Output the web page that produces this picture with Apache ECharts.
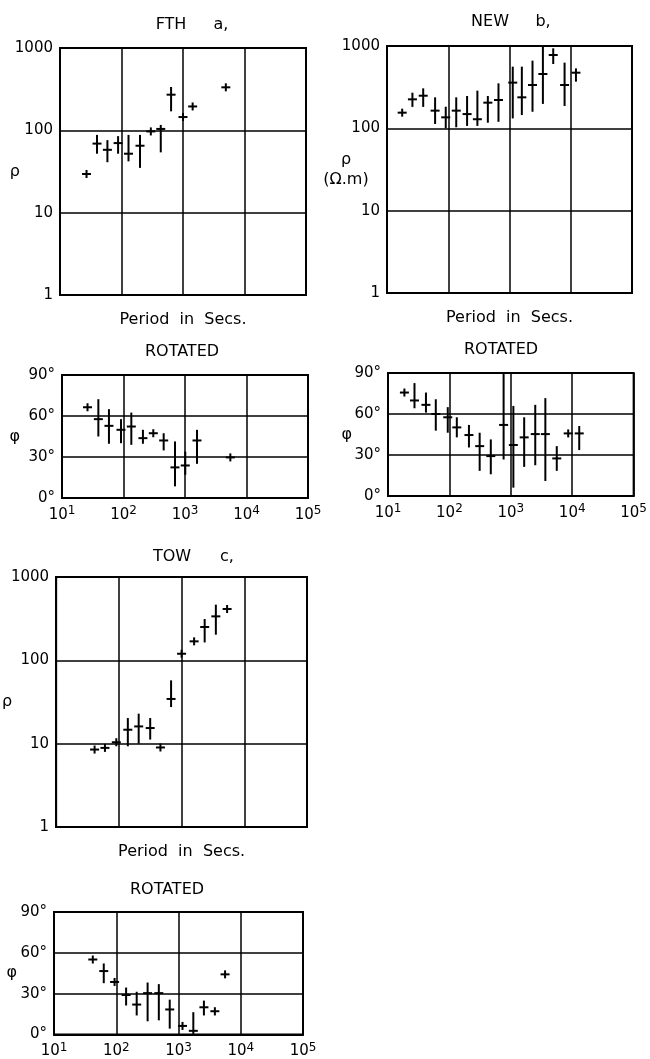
<!DOCTYPE html>
<html>
<head>
<meta charset="utf-8">
<script src="https://cdn.jsdelivr.net/npm/echarts@6/dist/echarts.min.js"></script>
<style>
html,body{margin:0;padding:0;background:#fff;}
#chart{width:650px;height:1059px;}
</style>
</head>
<body>
<div id="chart"></div>
<script>
// ---------- DATA ----------
// Station FTH (a)
const fthRhoPeriod = [27, 40, 59, 88, 130, 200, 300, 435, 640, 1000, 1435, 4970];
const fthRho       = [29.5, 69, 58, 70, 52, 65, 97, 104, 271, 145, 195, 333];
const fthRhoLow    = [null, 52, 41, 52, 42, 35, null, 54, 170, null, null, null];
const fthRhoHigh   = [null, 88, 76, 85, 88, 88, null, 112, 336, null, null, null];
const fthPhPeriod  = [26, 39, 58, 91, 134, 207, 305, 450, 687, 1010, 1567, 5460];
const fthPhase     = [66.4, 57.7, 52.8, 49.9, 52.3, 43.8, 47.4, 42.1, 22.4, 23.8, 42.1, 29.7];
const fthPhLow     = [null, 45, 39.7, 40.1, 38.9, 39.7, null, 34.8, 8.5, 17, 25, null];
const fthPhHigh    = [null, 72.3, 65, 57.7, 62.5, 49.9, null, 47.4, 41.4, 34, 49.9, null];

// Station NEW (b)
const newRhoPeriod = [17.7, 26, 39, 61, 91, 135, 203, 299, 443, 661, 1130, 1590, 2375, 3510, 5175, 7930, 12160];
const newRho       = [155, 225, 249, 164, 136, 164, 149, 129, 205, 221, 359, 238, 336, 457, 778, 336, 474];
const newRhoLow    = [null, 182, 182, 113, 100, 103, 107, 107, 117, 120, 132, 145, 159, 198, 604, 187, 369];
const newRhoHigh   = [null, 271, 306, 238, 183, 238, 247, 287, 247, 352, 561, 561, 664, 1000, 937, 628, 535];
const newPhPeriod  = [18.5, 27, 41.5, 60, 94, 132, 208, 311, 472, 763, 1100, 1650, 2500, 3650, 5600, 8600, 13000];
const newPhase     = [75.7, 69.9, 66.7, 60, 57.6, 50.2, 44.6, 36.5, 29.2, 52, 37.3, 42.9, 45.3, 45.3, 27.5, 45.8, 45.8];
const newPhLow     = [null, 64.2, 61, 47.8, 46.3, 42.9, 35.5, 18.4, 15.9, 26.7, 6.1, 21.3, 22.5, 11, 18.4, null, 33.6];
const newPhHigh    = [null, 82.6, 75.7, 70.8, 65, 57.6, 52, 46.3, 41.4, 89.5, 65.9, 57.6, 66.7, 71.6, 36.5, null, 51.2];

// Station TOW (c)
const towRhoPeriod = [41, 60, 91, 139, 207, 316, 460, 680, 1000, 1585, 2335, 3520, 5320];
const towRho       = [8.5, 8.9, 10.4, 14.7, 16.1, 15.4, 9.0, 34.4, 120, 169, 251, 337, 413];
const towRhoLow    = [null, null, null, 9.3, 10, 11.2, null, 27.5, null, null, 164, 203, null];
const towRhoHigh   = [null, null, null, 20.3, 22.9, 20.3, null, 57.5, null, null, 313, 466, null];
const towPhPeriod  = [42, 63, 94, 144, 213, 319, 483, 723, 1160, 1730, 2560, 3840, 5600];
const towPhase     = [55.1, 46.6, 38.6, 29, 22, 30.4, 30.4, 18.4, 6.3, 2.7, 20, 17.1, 44.2];
const towPhLow     = [null, 37.7, null, 21.3, 14, 9.7, 10.4, 4.3, null, 0, 14, 14, null];
const towPhHigh    = [null, 52.2, null, 34.5, 31.4, 38.2, 37, 25.6, null, 16.4, 24.9, 20, null];

// Axis tick labels
const rhoTicks   = [1, 10, 100, 1000];
const phaseTicks = ['0°', '30°', '60°', '90°'];
const periodExponents = [1, 2, 3, 4, 5];

// ---------- CHART ----------
const FONT = '"DejaVu Sans", sans-serif';
const chart = echarts.init(document.getElementById('chart'), null, {renderer: 'canvas'});

const grids = [
  {left: 60,  top: 48,  width: 246, height: 247},   // a rho
  {left: 62,  top: 375, width: 246, height: 123},   // a phase
  {left: 387, top: 46,  width: 245, height: 247},   // b rho
  {left: 388, top: 373, width: 249, height: 123},   // b phase
  {left: 56,  top: 577, width: 251, height: 250},   // c rho
  {left: 54,  top: 912, width: 249, height: 124}    // c phase
].map(g => Object.assign({show: true, borderColor: '#000', borderWidth: 2, backgroundColor: 'transparent'}, g));

function xAxis(i, isPhase) {
  return {
    type: 'log', logBase: 10, min: 10, max: 100000, gridIndex: i,
    axisLine: {show: true, lineStyle: {color: '#000', width: 2}},
    axisTick: {show: false},
    splitLine: {show: true, lineStyle: {color: '#000', width: 1.5}},
    axisLabel: isPhase ? {
      show: true, margin: 7, color: '#000',
      formatter: v => {
        const e = Math.round(Math.log10(v));
        return periodExponents.indexOf(e) >= 0 ? '10{s|' + e + '}' : '';
      },
      rich: {s: {fontSize: 12, fontFamily: FONT, color: '#000', verticalAlign: 'top', padding: [0, 0, 8, 0]}},
      fontFamily: FONT, fontSize: 15
    } : {show: false},
    name: isPhase ? '' : 'Period  in  Secs.',
    nameLocation: 'middle', nameGap: 17, nameMoveOverlap: false,
    nameTextStyle: {fontFamily: FONT, fontSize: 16, color: '#000'}
  };
}
function yRho(i, name, gap, align) {
  return {
    type: 'log', logBase: 10, min: 1, max: 1000, gridIndex: i,
    axisLine: {show: true, lineStyle: {color: '#000', width: 2}},
    axisTick: {show: false},
    splitLine: {show: true, lineStyle: {color: '#000', width: 1.5}},
    axisLabel: {color: '#000', fontFamily: FONT, fontSize: 15, margin: 7,
      formatter: v => rhoTicks.indexOf(Math.round(v)) >= 0 ? String(Math.round(v)) : ''},
    name: name, nameLocation: 'middle', nameRotate: 0, nameGap: gap, nameMoveOverlap: false,
    nameTextStyle: {fontFamily: FONT, fontSize: 16, color: '#000', lineHeight: 20, align: align || 'right'}
  };
}
function yPhase(i, gap) {
  return {
    type: 'value', min: 0, max: 90, interval: 30, gridIndex: i,
    axisLine: {show: true, lineStyle: {color: '#000', width: 2}},
    axisTick: {show: false},
    splitLine: {show: true, lineStyle: {color: '#000', width: 1.5}},
    axisLabel: {color: '#000', fontFamily: FONT, fontSize: 15, margin: 7,
      formatter: v => phaseTicks[Math.round(v / 30)]},
    name: 'φ', nameLocation: 'middle', nameRotate: 0, nameGap: gap, nameMoveOverlap: false,
    nameTextStyle: {fontFamily: FONT, fontSize: 16, color: '#000'}
  };
}

function errSeries(idx, periods, vals, lows, highs) {
  const data = periods.map((p, k) => [p, vals[k],
    lows[k] == null ? '-' : lows[k], highs[k] == null ? '-' : highs[k]]);
  return {
    type: 'custom', xAxisIndex: idx, yAxisIndex: idx,
    encode: {x: 0, y: 1},
    data: data,
    renderItem: (params, api) => {
      const x = api.value(0), y = api.value(1), lo = api.value(2), hi = api.value(3);
      const c = api.coord([x, y]);
      let top = c[1] - 4, bot = c[1] + 4;
      if (!isNaN(hi)) top = Math.min(top, api.coord([x, hi])[1]);
      if (!isNaN(lo)) bot = Math.max(bot, api.coord([x, lo])[1]);
      const st = {stroke: '#000', lineWidth: 2};
      return {type: 'group', children: [
        {type: 'line', shape: {x1: c[0] - 4.5, y1: c[1], x2: c[0] + 4.5, y2: c[1]}, style: st},
        {type: 'line', shape: {x1: c[0], y1: top, x2: c[0], y2: bot}, style: st}
      ]};
    }
  };
}

function label(text, x, y, size) {
  return {type: 'text', x: x, y: y, style: {text: text, fill: '#000',
    font: (size || 16) + 'px ' + FONT, textAlign: 'center', textVerticalAlign: 'middle'}};
}

const option = {
  backgroundColor: '#fff',
  animation: false,
  grid: grids,
  xAxis: [xAxis(0, false), xAxis(1, true), xAxis(2, false), xAxis(3, true), xAxis(4, false), xAxis(5, true)],
  yAxis: [yRho(0, 'ρ', 40), yPhase(1, 42), yRho(2, 'ρ\n(Ω.m)', 41, 'center'), yPhase(3, 36), yRho(4, 'ρ', 44), yPhase(5, 37)],
  series: [
    errSeries(0, fthRhoPeriod, fthRho, fthRhoLow, fthRhoHigh),
    errSeries(1, fthPhPeriod, fthPhase, fthPhLow, fthPhHigh),
    errSeries(2, newRhoPeriod, newRho, newRhoLow, newRhoHigh),
    errSeries(3, newPhPeriod, newPhase, newPhLow, newPhHigh),
    errSeries(4, towRhoPeriod, towRho, towRhoLow, towRhoHigh),
    errSeries(5, towPhPeriod, towPhase, towPhLow, towPhHigh)
  ],
  graphic: [
    label('FTH', 171, 25), label('a,', 221, 25),
    label('NEW', 490, 22), label('b,', 543, 22),
    label('TOW', 172, 557), label('c,', 227, 557),
    label('ROTATED', 182, 352), label('ROTATED', 501, 350), label('ROTATED', 167, 890)
  ]
};
chart.setOption(option);
</script>
</body>
</html>
